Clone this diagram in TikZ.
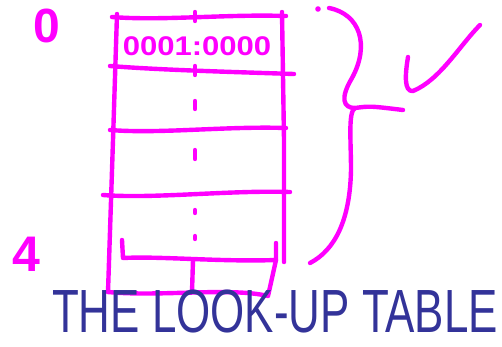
\documentclass[tikz,border=0pt]{standalone}
\usepackage{fontspec}
\setmainfont{Liberation Sans}
\usetikzlibrary{positioning,calc}
\definecolor{inkM}{HTML}{FF00FF}
\definecolor{inkB}{HTML}{333399}

\begin{document}
\begin{tikzpicture}[x=1pt, y=-1pt,
    pen/.style={inkM, line width=4.4pt, line cap=round, line join=round},
    every node/.style={inner sep=0pt}]
  \useasboundingbox (0,0) rectangle (502,346);
  % table frame
  \draw[pen] (117,14) -- (113,140) -- (108,292);
  \draw[pen] (282,12) -- (284,140) -- (284,262);
  \foreach \ya/\yb/\xa/\xb in {17/16/112/286, 66/74/110/294, 130/128/110/286, 195/192/103/290} {
    \draw[pen] (\xa,\ya) .. controls ({\xa+50},{\ya+4}) and ({\xb-60},{\yb-2}) .. (\xb,\yb);
  }
  % last row and the extra box
  \draw[pen] (122,240) -- (123,258) .. controls (160,256) and (220,262) .. (276,260) -- (276,243);
  \draw[pen] (108,292) .. controls (160,297) and (230,287) .. (268,296) -- (276,260);
  \draw[pen] (193,260) -- (192,292);
  % middle marks
  \foreach \ya/\yb in {12/21, 66/75, 101/109, 150/159, 210/213, 236/239} {
    \draw[pen] (195,\ya) -- (195,\yb);
  }
  \node[inkM, font=\bfseries\fontsize{27}{27}\selectfont, xscale=1.15] (entry) at (197,46) {0001:0000};
  % indices
  \node[inkM, font=\bfseries\fontsize{48}{48}\selectfont] (idx0) at (47,26) {0};
  \node[inkM, font=\bfseries\fontsize{50}{50}\selectfont] (idx4) at (26,254) {4};
  % brace and mark
  \fill[inkM] (318,9) circle (2.8);
  \draw[pen] (329,8) .. controls (360,14) and (370,45) .. (352,78)
    .. controls (340,98) and (343,108) .. (355,108)
    .. controls (370,106) .. (403,110);
  \draw[pen] (355,108) .. controls (348,112) and (351,140) .. (351,170)
    .. controls (350,220) and (335,250) .. (310,263);
  \draw[pen] (408,57) .. controls (405,75) and (404,92) .. (413,91)
    .. controls (440,80) and (460,45) .. (480,25);
  % title
  \node[inkB, font=\fontsize{61}{61}\selectfont, xscale=0.72] (title) at (275,311) {THE LOOK-UP TABLE};
\end{tikzpicture}
\end{document}
